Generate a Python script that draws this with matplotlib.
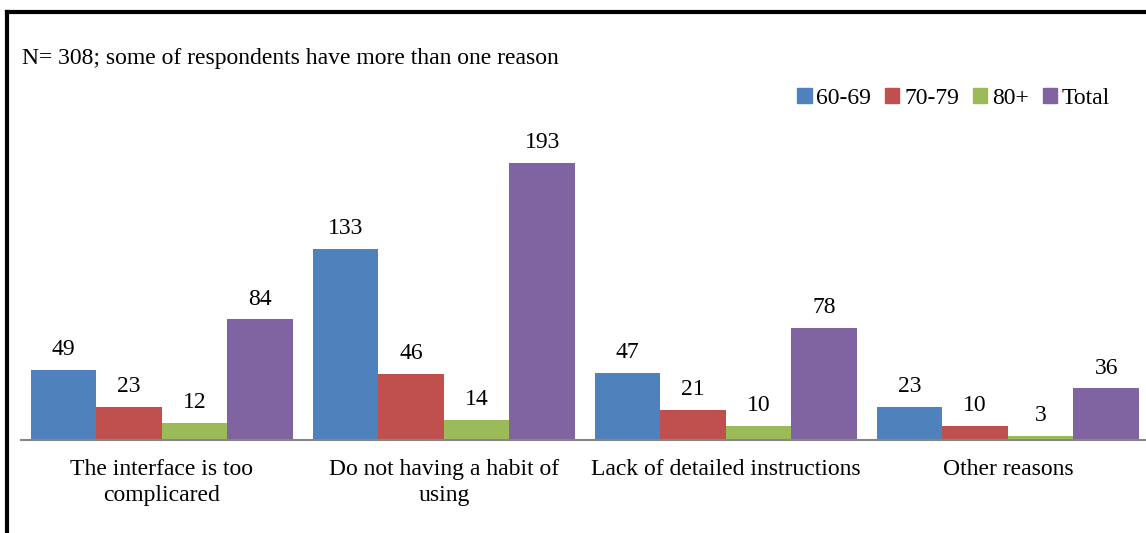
import matplotlib
matplotlib.use("Agg")
import matplotlib.pyplot as plt
from matplotlib.lines import Line2D
import numpy as np

categories = ["The interface is too\ncomplicared", "Do not having a habit of\nusing",
              "Lack of detailed instructions", "Other reasons"]
series_names = ["60-69", "70-79", "80+", "Total"]
values_6069 = [49, 133, 47, 23]
values_7079 = [23, 46, 21, 10]
values_80 = [12, 14, 10, 3]
values_total = [84, 193, 78, 36]
colors = ["#4F81BD", "#C0504D", "#9BBB59", "#8064A2"]

plt.rcParams["font.family"] = ["Liberation Serif", "DejaVu Serif"]

fig = plt.figure(figsize=(11.46, 5.33), dpi=100)
fig.patch.set_facecolor("white")
# the plot area runs a bit past the right edge of the picture
ax = fig.add_axes([0.0183, 0.1745, 0.9843, 0.6004])

x = np.arange(len(categories))
width = 0.2323
all_series = [values_6069, values_7079, values_80, values_total]
for i, (name, vals, c) in enumerate(zip(series_names, all_series, colors)):
    offs = (i - 1.5) * width
    bars = ax.bar(x + offs, vals, width, color=c, label=name, edgecolor="none", zorder=2)
    for b, v in zip(bars, vals):
        ax.annotate(str(v), (b.get_x() + b.get_width() / 2, v), xytext=(0, 7),
                    textcoords="offset points", ha="center", va="bottom", fontsize=17)

ax.set_xlim(-0.5, len(categories) - 0.5)
ax.set_ylim(0, 223)
ax.set_xticks(x)
ax.set_xticklabels(categories, fontsize=17, linespacing=1.3)
ax.tick_params(axis="x", length=0, pad=14)
ax.set_yticks([])
for s in ["top", "right", "left"]:
    ax.spines[s].set_visible(False)
ax.spines["bottom"].set_color("#868686")
ax.spines["bottom"].set_linewidth(1.5)

fig.text(0.0192, 0.89, "N= 308; some of respondents have more than one reason",
         fontsize=17, ha="left", va="center")

handles = [plt.Rectangle((0, 0), 1, 1, color=c) for c in colors]
fig.legend(handles, series_names, loc="center right", bbox_to_anchor=(0.977, 0.815),
           ncol=4, frameon=False, fontsize=17, handlelength=0.6, handleheight=0.6,
           handletextpad=0.2, columnspacing=0.6, borderaxespad=0)

# black frame around the chart
fig.add_artist(Line2D([0.0061, 1.0], [0.9775, 0.9775], color="black", linewidth=3,
                      transform=fig.transFigure))
fig.add_artist(Line2D([0.0061, 0.0061], [0.0, 0.9775], color="black", linewidth=3,
                      transform=fig.transFigure))

fig.savefig("out.png", dpi=100, facecolor="white")
